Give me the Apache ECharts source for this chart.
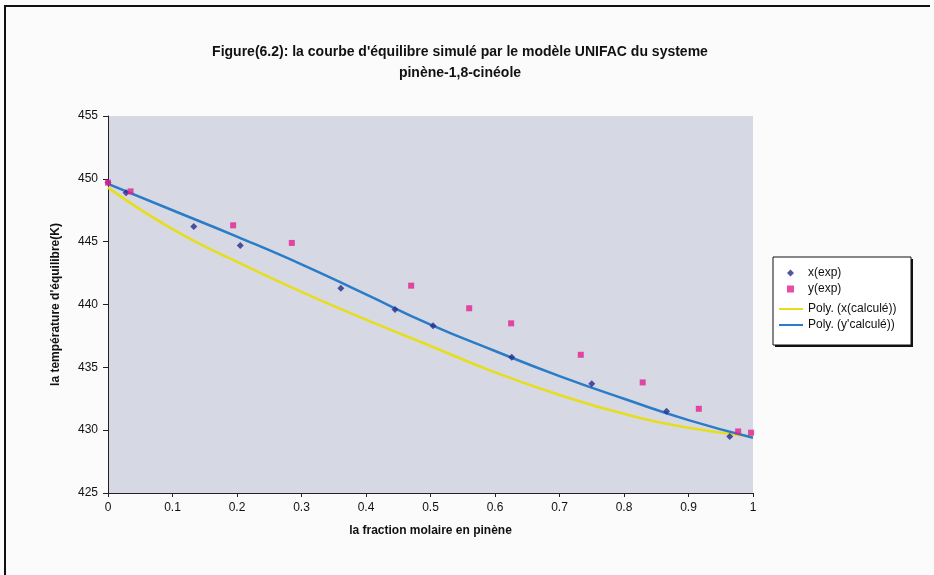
<!DOCTYPE html>
<html style="height: 100%">
<head>
 <meta charset="utf-8">
 <title>UNIFAC pinène-1,8-cinéole</title>
</head>
<body style="height: 100%; margin: 0; background: #fbfbfc">
 <div id="container" style="width: 934px; height: 575px"></div>
 <script type="text/javascript" src="https://cdn.jsdelivr.net/npm/echarts@6/dist/echarts.min.js"></script>
 <script type="text/javascript">
    // points
    var xExp = [[0, 449.7], [0.028, 448.9], [0.133, 446.2], [0.205, 444.7], [0.361, 441.3],
                [0.445, 439.6], [0.504, 438.3], [0.626, 435.8], [0.750, 433.7], [0.866, 431.5],
                [0.964, 429.5]];
    var yExp = [[0, 449.7], [0.035, 449.0], [0.194, 446.3], [0.285, 444.9], [0.470, 441.5],
                [0.560, 439.7], [0.625, 438.5], [0.733, 436.0], [0.829, 433.8], [0.916, 431.7],
                [0.977, 429.9], [0.997, 429.8]];
    var fracs = [0, 0.1, 0.2, 0.3, 0.4, 0.5, 0.6, 0.7, 0.8, 0.9, 1];
    var xCalc = [449.3, 446.0, 443.4, 441.0, 438.8, 436.7, 434.6, 432.8, 431.3, 430.2, 429.5];
    var yCalc = [449.6, 447.5, 445.4, 443.2, 440.8, 438.4, 436.3, 434.3, 432.5, 430.8, 429.4];
    var names = ['x(exp)', 'y(exp)', 'Poly. (x(calculé))', "Poly. (y'calculé))"];

    var font = '"Liberation Sans", Arial, sans-serif';
    var pair = function (ys) { return fracs.map(function (f, i) { return [f, ys[i]]; }); };

    var myChart = echarts.init(document.getElementById('container'));
    myChart.setOption({
        backgroundColor: '#fbfbfc',
        animation: false,
        textStyle: { fontFamily: font },
        title: {
            text: "Figure(6.2): la courbe d'équilibre simulé par le modèle UNIFAC du systeme\npinène-1,8-cinéole",
            left: 455, top: 37, textAlign: 'center',
            textStyle: { fontSize: 14, fontWeight: 'bold', color: '#111', lineHeight: 21 }
        },
        graphic: [
            { type: 'line', shape: { x1: 4, y1: 6, x2: 930, y2: 6 }, style: { stroke: '#111', lineWidth: 2 } },
            { type: 'line', shape: { x1: 5, y1: 6, x2: 5, y2: 575 }, style: { stroke: '#111', lineWidth: 2 } },
            // legend frame, Excel style with a drop shadow
            { type: 'rect', z: 0, shape: { x: 775, y: 259, width: 138, height: 88 }, style: { fill: '#111' } },
            { type: 'rect', z: 1, shape: { x: 773, y: 257, width: 138, height: 88 },
              style: { fill: '#fff', stroke: '#111', lineWidth: 1 } }
        ],
        legend: [
            {
                orient: 'vertical', left: 787, top: 267, z: 5,
                itemWidth: 7, itemHeight: 7, itemGap: 4, padding: 0,
                textStyle: { fontSize: 12, color: '#111', padding: [0, 0, 0, 9] },
                data: [names[0], names[1]]
            },
            {
                orient: 'vertical', left: 779, top: 303, z: 5,
                itemWidth: 24, itemHeight: 2, itemGap: 4, padding: 0,
                icon: 'rect',
                textStyle: { fontSize: 12, color: '#111' },
                data: [names[2], names[3]]
            }
        ],
        grid: { left: 108, right: 181, top: 116, bottom: 82, show: true, backgroundColor: '#d6d8e4', borderWidth: 0 },
        xAxis: {
            type: 'value', min: 0, max: 1, interval: 0.1,
            name: 'la fraction molaire en pinène', nameLocation: 'middle', nameGap: 32,
            nameTextStyle: { fontSize: 12, fontWeight: 'bold', color: '#111' },
            axisLine: { lineStyle: { color: '#222' } },
            axisTick: { inside: false, length: 4, lineStyle: { color: '#222' } },
            axisLabel: { fontSize: 12, color: '#111', margin: 9,
                formatter: function (v) { return String(Math.round(v * 10) / 10); } },
            splitLine: { show: false }
        },
        yAxis: {
            type: 'value', min: 425, max: 455, interval: 5,
            name: "la température d'équilibre(K)", nameLocation: 'middle', nameGap: 46,
            nameTextStyle: { fontSize: 12, fontWeight: 'bold', color: '#111' },
            axisLine: { show: true, lineStyle: { color: '#222' } },
            axisTick: { show: true, length: 5, lineStyle: { color: '#222' } },
            axisLabel: { fontSize: 12, color: '#111', margin: 10 },
            splitLine: { show: false }
        },
        series: [
            {
                name: names[2], type: 'line', data: pair(xCalc), smooth: true, symbol: 'none',
                lineStyle: { color: '#e6de1c', width: 2.5 }, itemStyle: { color: '#e6de1c' }, z: 2
            },
            {
                name: names[3], type: 'line', data: pair(yCalc), smooth: true, symbol: 'none',
                lineStyle: { color: '#2a7cc6', width: 2.5 }, itemStyle: { color: '#2a7cc6' }, z: 3
            },
            {
                name: names[0], type: 'scatter', data: xExp, symbol: 'diamond', symbolSize: 7,
                itemStyle: { color: '#262c8c' }, z: 4
            },
            {
                name: names[1], type: 'scatter', data: yExp, symbol: 'rect', symbolSize: 6,
                itemStyle: { color: '#e2208e' }, z: 5
            }
        ]
    });
 </script>
</body>
</html>
